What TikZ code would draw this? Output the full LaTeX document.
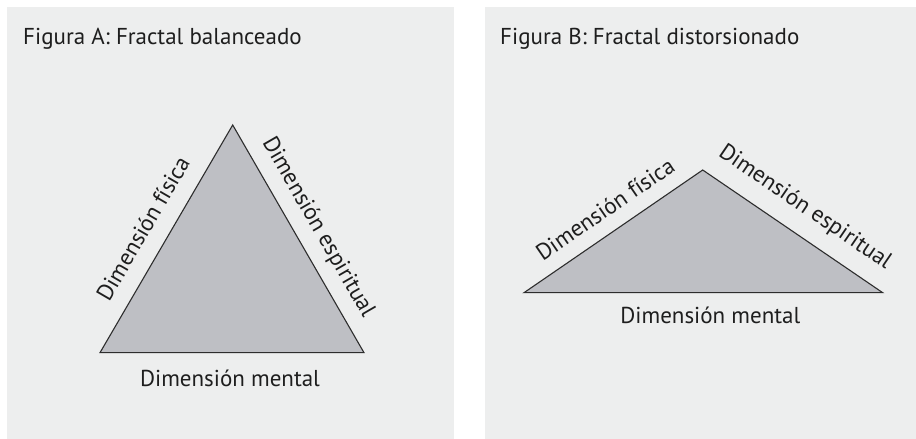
\documentclass[tikz,border=0pt]{standalone}
\usepackage{fontspec}
\setmainfont{PT Sans}
\usetikzlibrary{calc}
\definecolor{panelbg}{RGB}{237,238,238}
\definecolor{trifill}{RGB}{190,191,196}
\definecolor{triline}{RGB}{45,45,45}
\definecolor{txt}{RGB}{30,30,30}
\tikzset{
  panel/.style={fill=panelbg, draw=none},
  tri/.style={fill=trifill, draw=triline, line width=1.1pt, line join=miter},
  lbl/.style={inner sep=0pt, text=txt, font=\fontsize{23}{27}\selectfont},
  ttl/.style={inner sep=0pt, text=txt, anchor=base west, font=\fontsize{23}{27}\selectfont}
}
\begin{document}
\begin{tikzpicture}[x=1pt,y=1pt]
\useasboundingbox (0,0) rectangle (916,439);
% panels
\path[panel] (7,0) rectangle (454,432);
\path[panel] (485,0) rectangle (916,432);
% titles
\node[ttl] (tA) at (23,394.5) {Figura A: Fractal balanceado};
\node[ttl] (tB) at (500,394.5) {Figura B: Fractal distorsionado};
% triangle A
\coordinate (a1) at (100,86.3);
\coordinate (aT) at (232.7,314);
\coordinate (a3) at (364,86.3);
\draw[tri] (a1) -- (aT) -- (a3) -- cycle;
\coordinate (mAl) at ($(a1)!0.49!(aT)$);
\coordinate (mAr) at ($(aT)!0.5!(a3)$);
\node[lbl, rotate=59.8] (lAf) at ($(mAl)!25.6pt!90:(aT)$) {Dimensión física};
\node[lbl, rotate=-60] (lAe) at ($(mAr)!22.7pt!90:(a3)$) {Dimensión espiritual};
\node[lbl, anchor=base] (lAm) at ($(a1)!0.5!(a3)+(-2,-34)$) {Dimensión mental};
% triangle B
\coordinate (b1) at (524,146.3);
\coordinate (bT) at (702.7,269);
\coordinate (b3) at (882.7,146.3);
\draw[tri] (b1) -- (bT) -- (b3) -- cycle;
\coordinate (mBl) at ($(b1)!0.527!(bT)$);
\coordinate (mBr) at ($(bT)!0.485!(b3)$);
\node[lbl, rotate=34.5] (lBf) at ($(mBl)!23.2pt!90:(bT)$) {Dimensión física};
\node[lbl, rotate=-34.3] (lBe) at ($(mBr)!26.6pt!90:(b3)$) {Dimensión espiritual};
\node[lbl, anchor=base] (lBm) at ($(b1)!0.5!(b3)+(7,-31)$) {Dimensión mental};
\end{tikzpicture}
\end{document}
